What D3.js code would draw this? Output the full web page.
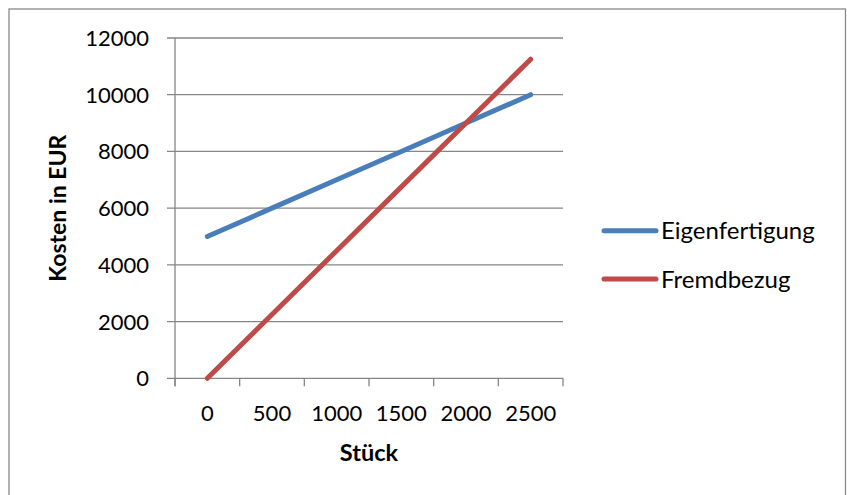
<!DOCTYPE html>
<html>
<head>
<meta charset="utf-8">
<script src="https://cdn.jsdelivr.net/npm/d3@7"></script>
<style>
  html, body { margin: 0; padding: 0; background: #fff; }
  svg { display: block; }
  text { font-family: Lato, "Open Sans", sans-serif; fill: #000; }
</style>
</head>
<body>
<script>
const categories = ["0", "500", "1000", "1500", "2000", "2500"];
const eigenfertigung = [5000, 6000, 7000, 8000, 9000, 10000];
const fremdbezug = [0, 2250, 4500, 6750, 9000, 11250];
const yTicks = [0, 2000, 4000, 6000, 8000, 10000, 12000];
const seriesNames = ["Eigenfertigung", "Fremdbezug"];
const seriesColors = ["#4A7EBB", "#BE4B48"];

const W = 847, H = 495;
const svg = d3.select("body").append("svg").attr("width", W).attr("height", H);

// outer chart border
svg.append("rect").attr("x", 9).attr("y", 9).attr("width", 836.5).attr("height", 500)
  .attr("fill", "#fff").attr("stroke", "#898989").attr("stroke-width", 1.3);

const plotL = 175, plotR = 563, plotT = 38, plotB = 378.3;
const x = d3.scaleBand().domain(categories).range([plotL, plotR]).padding(0);
const y = d3.scaleLinear().domain([0, 12000]).range([plotB, plotT]);
const gridColor = "#868686";

// horizontal gridlines (with outside tick)
svg.append("g").selectAll("line").data(yTicks).join("line")
  .attr("x1", plotL - 8).attr("x2", plotR)
  .attr("y1", d => y(d)).attr("y2", d => y(d))
  .attr("stroke", gridColor).attr("stroke-width", 1.3);

// y axis line
svg.append("line").attr("x1", plotL).attr("x2", plotL).attr("y1", plotT).attr("y2", plotB + 8)
  .attr("stroke", gridColor).attr("stroke-width", 1.3);

// x tick marks at category boundaries
const boundaries = categories.map(c => x(c)).concat([x(categories[categories.length - 1]) + x.bandwidth()]);
svg.append("g").selectAll("line").data(boundaries).join("line")
  .attr("x1", d => d).attr("x2", d => d)
  .attr("y1", plotB).attr("y2", plotB + 8)
  .attr("stroke", gridColor).attr("stroke-width", 1.3);

// y labels
svg.append("g").selectAll("text").data(yTicks).join("text")
  .attr("x", 149).attr("y", d => y(d)).attr("dy", "0.36em")
  .attr("text-anchor", "end").attr("font-size", 22)
  .text(d => d);

// x labels
svg.append("g").selectAll("text").data(categories).join("text")
  .attr("x", d => x(d) + x.bandwidth() / 2).attr("y", 413).attr("dy", "0.36em")
  .attr("text-anchor", "middle").attr("font-size", 22)
  .text(d => d);

// axis titles
svg.append("text").attr("x", (plotL + plotR) / 2).attr("y", 453).attr("dy", "0.36em")
  .attr("text-anchor", "middle").attr("font-size", 23.5).attr("font-weight", "bold").text("Stück");
svg.append("text").attr("transform", `translate(58,${(plotT + plotB) / 2}) rotate(-90)`)
  .attr("dy", "0.36em").attr("text-anchor", "middle").attr("font-size", 23).attr("font-weight", "bold")
  .text("Kosten in EUR");

// lines
const line = d3.line().x((d, i) => x(categories[i]) + x.bandwidth() / 2).y(d => y(d));
[eigenfertigung, fremdbezug].forEach((s, i) => {
  svg.append("path").datum(s).attr("d", line)
    .attr("fill", "none").attr("stroke", seriesColors[i]).attr("stroke-width", 5)
    .attr("stroke-linecap", "round").attr("stroke-linejoin", "round");
});

// legend
const legY = [230.7, 279];
seriesNames.forEach((n, i) => {
  svg.append("line").attr("x1", 604).attr("x2", 656).attr("y1", legY[i]).attr("y2", legY[i])
    .attr("stroke", seriesColors[i]).attr("stroke-width", 5).attr("stroke-linecap", "round");
  svg.append("text").attr("x", 661).attr("y", legY[i]).attr("dy", "0.36em")
    .attr("font-size", 24).text(n);
});
</script>
</body>
</html>
